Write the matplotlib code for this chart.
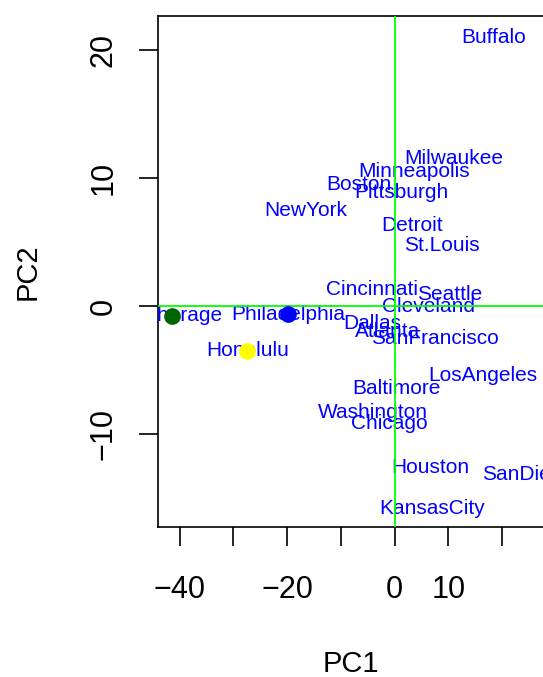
import matplotlib
matplotlib.use("Agg")
import matplotlib.pyplot as plt

plt.rcParams['font.family'] = ['Liberation Sans', 'DejaVu Sans']

# PC scores
cities = ["Buffalo", "Milwaukee", "Minneapolis", "Boston", "Pittsburgh", "NewYork",
          "Detroit", "St.Louis", "Cincinnati", "Seattle", "Cleveland", "Anchorage",
          "Philadelphia", "Dallas", "Atlanta", "SanFrancisco", "Honolulu", "LosAngeles",
          "Baltimore", "Washington", "Chicago", "Houston", "SanDiego", "KansasCity"]
pc1 = [18.4, 11.06, 3.67, -6.57, 1.28, -16.6,
       3.33, 8.76, -4.28, 10.2, 6.4, -41.35,
       -19.8, -4.06, -1.27, 7.58, -27.4, 16.46,
       0.28, -4.0, -0.9, 6.74, 24.85, 6.96]
pc2 = [21.04, 11.56, 10.51, 9.52, 8.87, 7.46,
       6.28, 4.72, 1.25, 0.91, -0.05, -0.78,
       -0.65, -1.41, -2.01, -2.53, -3.52, -5.45,
       -6.49, -8.32, -9.18, -12.62, -13.15, -15.84]

highlight = {"Anchorage": "darkgreen", "Philadelphia": "blue", "Honolulu": "yellow"}

xticks = [-40, -30, -20, -10, 0, 10, 20]
xlabels = ["\u221240", "", "\u221220", "", "0", "10", ""]
yticks = [-10, 0, 10, 20]
ylabels = ["\u221210", "0", "10", "20"]

W, H = 543, 677
fig = plt.figure(figsize=(W / 100, H / 100), dpi=100)
left, right, top, bottom = 158, 543.5, 16, 527.3
ax = fig.add_axes([left / W, 1 - bottom / H, (right - left) / W, (bottom - top) / H])
ax.set_xlim(-44.0, 27.7)
ax.set_ylim(-17.32, 22.69)

for c, x, y in zip(cities, pc1, pc2):
    ax.text(x, y, c, color="blue", fontsize=15, ha="center", va="center", clip_on=True)

ax.axhline(0, color="#00ff00", lw=1.3, zorder=3)
ax.axvline(0, color="#00ff00", lw=1.3, zorder=3)

for c, x, y in zip(cities, pc1, pc2):
    if c in highlight:
        ax.plot(x, y, "o", color=highlight[c], ms=11, mec=highlight[c], zorder=4)

ax.spines["right"].set_visible(False)
for s in ["left", "bottom", "top"]:
    ax.spines[s].set_linewidth(1.2)

ax.set_xticks(xticks)
ax.set_xticklabels(xlabels)
ax.set_yticks(yticks)
ax.set_yticklabels(ylabels, rotation=90, va="center")
ax.tick_params(direction="out", length=13.5, width=1.2, labelsize=22)
ax.tick_params(axis="x", pad=21)
ax.tick_params(axis="y", pad=15)

ax.set_xlabel("PC1", fontsize=21, labelpad=32)
ax.set_ylabel("PC2", fontsize=21, labelpad=34)

fig.savefig("out.png", dpi=100)
